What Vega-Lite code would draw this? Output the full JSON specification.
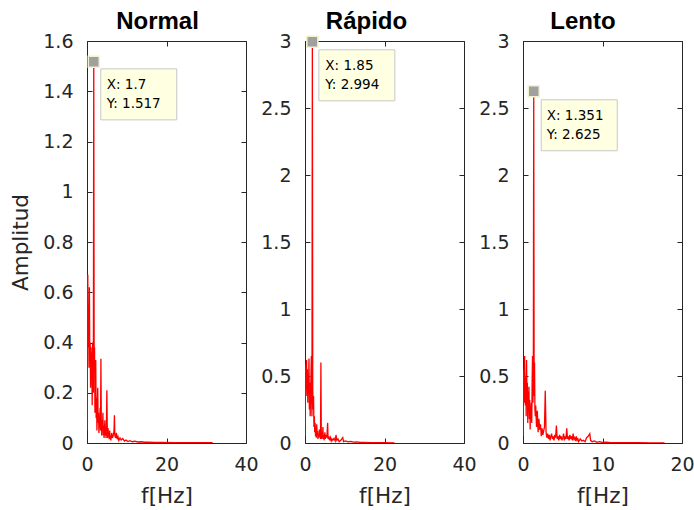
{
  "$schema": "https://vega.github.io/schema/vega-lite/v6.json",
  "padding": {"left": 10, "top": 10, "right": 5, "bottom": 5},
  "background": "white",
  "datasets": {
    "spectra": [
      {"panel":"Normal","f":0.0,"amp":0.05},{"panel":"Normal","f":0.1,"amp":0.45},{"panel":"Normal","f":0.2,"amp":0.67},{"panel":"Normal","f":0.3,"amp":0.38},{"panel":"Normal","f":0.4,"amp":0.55},{"panel":"Normal","f":0.5,"amp":0.30},{"panel":"Normal","f":0.6,"amp":0.62},{"panel":"Normal","f":0.7,"amp":0.35},{"panel":"Normal","f":0.8,"amp":0.40},{"panel":"Normal","f":0.9,"amp":0.22},{"panel":"Normal","f":1.0,"amp":0.38},{"panel":"Normal","f":1.1,"amp":0.26},{"panel":"Normal","f":1.2,"amp":0.36},{"panel":"Normal","f":1.3,"amp":0.15},{"panel":"Normal","f":1.4,"amp":0.40},{"panel":"Normal","f":1.5,"amp":0.28},{"panel":"Normal","f":1.6,"amp":0.20},{"panel":"Normal","f":1.7,"amp":1.517},{"panel":"Normal","f":1.8,"amp":0.30},{"panel":"Normal","f":1.9,"amp":0.38},{"panel":"Normal","f":2.0,"amp":0.12},{"panel":"Normal","f":2.1,"amp":0.25},{"panel":"Normal","f":2.2,"amp":0.33},{"panel":"Normal","f":2.3,"amp":0.10},{"panel":"Normal","f":2.4,"amp":0.18},{"panel":"Normal","f":2.5,"amp":0.05},{"panel":"Normal","f":2.6,"amp":0.15},{"panel":"Normal","f":2.7,"amp":0.22},{"panel":"Normal","f":2.8,"amp":0.08},{"panel":"Normal","f":2.9,"amp":0.12},{"panel":"Normal","f":3.0,"amp":0.04},{"panel":"Normal","f":3.1,"amp":0.10},{"panel":"Normal","f":3.2,"amp":0.06},{"panel":"Normal","f":3.3,"amp":0.14},{"panel":"Normal","f":3.4,"amp":0.05},{"panel":"Normal","f":3.5,"amp":0.335},{"panel":"Normal","f":3.6,"amp":0.08},{"panel":"Normal","f":3.7,"amp":0.03},{"panel":"Normal","f":3.8,"amp":0.09},{"panel":"Normal","f":3.9,"amp":0.05},{"panel":"Normal","f":4.0,"amp":0.12},{"panel":"Normal","f":4.1,"amp":0.03},{"panel":"Normal","f":4.2,"amp":0.07},{"panel":"Normal","f":4.3,"amp":0.02},{"panel":"Normal","f":4.4,"amp":0.06},{"panel":"Normal","f":4.5,"amp":0.09},{"panel":"Normal","f":4.6,"amp":0.03},{"panel":"Normal","f":4.7,"amp":0.05},{"panel":"Normal","f":4.8,"amp":0.02},{"panel":"Normal","f":4.9,"amp":0.08},{"panel":"Normal","f":5.0,"amp":0.21},{"panel":"Normal","f":5.1,"amp":0.05},{"panel":"Normal","f":5.2,"amp":0.02},{"panel":"Normal","f":5.3,"amp":0.06},{"panel":"Normal","f":5.4,"amp":0.03},{"panel":"Normal","f":5.5,"amp":0.04},{"panel":"Normal","f":5.6,"amp":0.015},{"panel":"Normal","f":5.7,"amp":0.05},{"panel":"Normal","f":5.8,"amp":0.02},{"panel":"Normal","f":5.9,"amp":0.03},{"panel":"Normal","f":6.0,"amp":0.01},{"panel":"Normal","f":6.2,"amp":0.04},{"panel":"Normal","f":6.4,"amp":0.02},{"panel":"Normal","f":6.6,"amp":0.03},{"panel":"Normal","f":6.8,"amp":0.05},{"panel":"Normal","f":6.9,"amp":0.11},{"panel":"Normal","f":7.0,"amp":0.03},{"panel":"Normal","f":7.2,"amp":0.02},{"panel":"Normal","f":7.4,"amp":0.04},{"panel":"Normal","f":7.6,"amp":0.015},{"panel":"Normal","f":7.8,"amp":0.025},{"panel":"Normal","f":8.0,"amp":0.01},{"panel":"Normal","f":8.3,"amp":0.02},{"panel":"Normal","f":8.6,"amp":0.012},{"panel":"Normal","f":9.0,"amp":0.018},{"panel":"Normal","f":9.4,"amp":0.008},{"panel":"Normal","f":9.8,"amp":0.012},{"panel":"Normal","f":10.3,"amp":0.006},{"panel":"Normal","f":10.8,"amp":0.009},{"panel":"Normal","f":11.4,"amp":0.005},{"panel":"Normal","f":12.0,"amp":0.007},{"panel":"Normal","f":12.8,"amp":0.004},{"panel":"Normal","f":13.6,"amp":0.005},{"panel":"Normal","f":14.5,"amp":0.003},{"panel":"Normal","f":15.5,"amp":0.003},{"panel":"Normal","f":17.0,"amp":0.002},{"panel":"Normal","f":19.0,"amp":0.002},{"panel":"Normal","f":22.0,"amp":0.001},{"panel":"Normal","f":25.0,"amp":0.001},{"panel":"Normal","f":28.0,"amp":0.001},{"panel":"Normal","f":31.6,"amp":0.001},

      {"panel":"Rápido","f":0.0,"amp":0.05},{"panel":"Rápido","f":0.1,"amp":0.45},{"panel":"Rápido","f":0.2,"amp":0.58},{"panel":"Rápido","f":0.3,"amp":0.35},{"panel":"Rápido","f":0.4,"amp":0.62},{"panel":"Rápido","f":0.5,"amp":0.40},{"panel":"Rápido","f":0.6,"amp":0.55},{"panel":"Rápido","f":0.7,"amp":0.30},{"panel":"Rápido","f":0.8,"amp":0.50},{"panel":"Rápido","f":0.9,"amp":0.38},{"panel":"Rápido","f":1.0,"amp":0.63},{"panel":"Rápido","f":1.1,"amp":0.25},{"panel":"Rápido","f":1.2,"amp":0.45},{"panel":"Rápido","f":1.3,"amp":0.20},{"panel":"Rápido","f":1.4,"amp":0.35},{"panel":"Rápido","f":1.5,"amp":0.50},{"panel":"Rápido","f":1.6,"amp":0.65},{"panel":"Rápido","f":1.7,"amp":0.30},{"panel":"Rápido","f":1.75,"amp":0.20},{"panel":"Rápido","f":1.85,"amp":2.994},{"panel":"Rápido","f":1.95,"amp":0.40},{"panel":"Rápido","f":2.05,"amp":0.25},{"panel":"Rápido","f":2.15,"amp":0.35},{"panel":"Rápido","f":2.25,"amp":0.12},{"panel":"Rápido","f":2.35,"amp":0.20},{"panel":"Rápido","f":2.45,"amp":0.08},{"panel":"Rápido","f":2.55,"amp":0.15},{"panel":"Rápido","f":2.65,"amp":0.05},{"panel":"Rápido","f":2.75,"amp":0.10},{"panel":"Rápido","f":2.85,"amp":0.04},{"panel":"Rápido","f":2.95,"amp":0.14},{"panel":"Rápido","f":3.05,"amp":0.06},{"panel":"Rápido","f":3.15,"amp":0.09},{"panel":"Rápido","f":3.25,"amp":0.03},{"panel":"Rápido","f":3.35,"amp":0.07},{"panel":"Rápido","f":3.5,"amp":0.04},{"panel":"Rápido","f":3.6,"amp":0.10},{"panel":"Rápido","f":3.7,"amp":0.05},{"panel":"Rápido","f":3.8,"amp":0.08},{"panel":"Rápido","f":3.9,"amp":0.03},{"panel":"Rápido","f":4.0,"amp":0.60},{"panel":"Rápido","f":4.1,"amp":0.06},{"panel":"Rápido","f":4.2,"amp":0.03},{"panel":"Rápido","f":4.3,"amp":0.08},{"panel":"Rápido","f":4.4,"amp":0.04},{"panel":"Rápido","f":4.5,"amp":0.12},{"panel":"Rápido","f":4.6,"amp":0.03},{"panel":"Rápido","f":4.7,"amp":0.06},{"panel":"Rápido","f":4.8,"amp":0.02},{"panel":"Rápido","f":4.9,"amp":0.05},{"panel":"Rápido","f":5.0,"amp":0.08},{"panel":"Rápido","f":5.1,"amp":0.03},{"panel":"Rápido","f":5.3,"amp":0.06},{"panel":"Rápido","f":5.5,"amp":0.04},{"panel":"Rápido","f":5.7,"amp":0.15},{"panel":"Rápido","f":5.8,"amp":0.03},{"panel":"Rápido","f":6.0,"amp":0.05},{"panel":"Rápido","f":6.2,"amp":0.02},{"panel":"Rápido","f":6.4,"amp":0.04},{"panel":"Rápido","f":6.6,"amp":0.015},{"panel":"Rápido","f":6.8,"amp":0.03},{"panel":"Rápido","f":7.0,"amp":0.02},{"panel":"Rápido","f":7.3,"amp":0.035},{"panel":"Rápido","f":7.6,"amp":0.015},{"panel":"Rápido","f":7.8,"amp":0.06},{"panel":"Rápido","f":8.0,"amp":0.02},{"panel":"Rápido","f":8.3,"amp":0.03},{"panel":"Rápido","f":8.6,"amp":0.01},{"panel":"Rápido","f":9.0,"amp":0.02},{"panel":"Rápido","f":9.5,"amp":0.04},{"panel":"Rápido","f":9.7,"amp":0.01},{"panel":"Rápido","f":10.2,"amp":0.015},{"panel":"Rápido","f":10.8,"amp":0.008},{"panel":"Rápido","f":11.5,"amp":0.012},{"panel":"Rápido","f":12.2,"amp":0.006},{"panel":"Rápido","f":13.0,"amp":0.008},{"panel":"Rápido","f":14.0,"amp":0.004},{"panel":"Rápido","f":15.0,"amp":0.005},{"panel":"Rápido","f":16.5,"amp":0.003},{"panel":"Rápido","f":18.0,"amp":0.002},{"panel":"Rápido","f":20.0,"amp":0.002},{"panel":"Rápido","f":22.5,"amp":0.001},

      {"panel":"Lento","f":0.0,"amp":0.05},{"panel":"Lento","f":0.05,"amp":0.35},{"panel":"Lento","f":0.1,"amp":0.55},{"panel":"Lento","f":0.15,"amp":0.30},{"panel":"Lento","f":0.2,"amp":0.65},{"panel":"Lento","f":0.25,"amp":0.40},{"panel":"Lento","f":0.3,"amp":0.28},{"panel":"Lento","f":0.35,"amp":0.50},{"panel":"Lento","f":0.4,"amp":0.20},{"panel":"Lento","f":0.45,"amp":0.62},{"panel":"Lento","f":0.5,"amp":0.35},{"panel":"Lento","f":0.55,"amp":0.45},{"panel":"Lento","f":0.6,"amp":0.15},{"panel":"Lento","f":0.65,"amp":0.38},{"panel":"Lento","f":0.7,"amp":0.25},{"panel":"Lento","f":0.75,"amp":0.42},{"panel":"Lento","f":0.8,"amp":0.18},{"panel":"Lento","f":0.85,"amp":0.32},{"panel":"Lento","f":0.9,"amp":0.10},{"panel":"Lento","f":0.95,"amp":0.28},{"panel":"Lento","f":1.0,"amp":0.22},{"panel":"Lento","f":1.05,"amp":0.30},{"panel":"Lento","f":1.1,"amp":0.15},{"panel":"Lento","f":1.15,"amp":0.45},{"panel":"Lento","f":1.2,"amp":0.65},{"panel":"Lento","f":1.25,"amp":0.30},{"panel":"Lento","f":1.3,"amp":0.50},{"panel":"Lento","f":1.351,"amp":2.625},{"panel":"Lento","f":1.4,"amp":0.35},{"panel":"Lento","f":1.45,"amp":0.60},{"panel":"Lento","f":1.5,"amp":0.25},{"panel":"Lento","f":1.55,"amp":0.20},{"panel":"Lento","f":1.6,"amp":0.28},{"panel":"Lento","f":1.7,"amp":0.12},{"panel":"Lento","f":1.8,"amp":0.24},{"panel":"Lento","f":1.9,"amp":0.08},{"panel":"Lento","f":2.0,"amp":0.18},{"panel":"Lento","f":2.1,"amp":0.10},{"panel":"Lento","f":2.2,"amp":0.14},{"panel":"Lento","f":2.3,"amp":0.05},{"panel":"Lento","f":2.4,"amp":0.11},{"panel":"Lento","f":2.5,"amp":0.06},{"panel":"Lento","f":2.6,"amp":0.09},{"panel":"Lento","f":2.7,"amp":0.12},{"panel":"Lento","f":2.8,"amp":0.39},{"panel":"Lento","f":2.9,"amp":0.08},{"panel":"Lento","f":3.0,"amp":0.04},{"panel":"Lento","f":3.1,"amp":0.07},{"panel":"Lento","f":3.2,"amp":0.03},{"panel":"Lento","f":3.3,"amp":0.06},{"panel":"Lento","f":3.4,"amp":0.02},{"panel":"Lento","f":3.5,"amp":0.05},{"panel":"Lento","f":3.6,"amp":0.07},{"panel":"Lento","f":3.7,"amp":0.03},{"panel":"Lento","f":3.8,"amp":0.05},{"panel":"Lento","f":3.9,"amp":0.02},{"panel":"Lento","f":4.0,"amp":0.06},{"panel":"Lento","f":4.1,"amp":0.04},{"panel":"Lento","f":4.2,"amp":0.13},{"panel":"Lento","f":4.3,"amp":0.03},{"panel":"Lento","f":4.4,"amp":0.05},{"panel":"Lento","f":4.5,"amp":0.02},{"panel":"Lento","f":4.6,"amp":0.06},{"panel":"Lento","f":4.7,"amp":0.03},{"panel":"Lento","f":4.8,"amp":0.05},{"panel":"Lento","f":4.9,"amp":0.02},{"panel":"Lento","f":5.0,"amp":0.04},{"panel":"Lento","f":5.1,"amp":0.07},{"panel":"Lento","f":5.2,"amp":0.02},{"panel":"Lento","f":5.3,"amp":0.05},{"panel":"Lento","f":5.4,"amp":0.03},{"panel":"Lento","f":5.5,"amp":0.11},{"panel":"Lento","f":5.6,"amp":0.03},{"panel":"Lento","f":5.7,"amp":0.05},{"panel":"Lento","f":5.8,"amp":0.02},{"panel":"Lento","f":5.9,"amp":0.06},{"panel":"Lento","f":6.0,"amp":0.03},{"panel":"Lento","f":6.1,"amp":0.05},{"panel":"Lento","f":6.2,"amp":0.02},{"panel":"Lento","f":6.3,"amp":0.07},{"panel":"Lento","f":6.4,"amp":0.03},{"panel":"Lento","f":6.5,"amp":0.04},{"panel":"Lento","f":6.6,"amp":0.015},{"panel":"Lento","f":6.7,"amp":0.05},{"panel":"Lento","f":6.8,"amp":0.02},{"panel":"Lento","f":6.9,"amp":0.03},{"panel":"Lento","f":7.0,"amp":0.01},{"panel":"Lento","f":7.2,"amp":0.03},{"panel":"Lento","f":7.4,"amp":0.015},{"panel":"Lento","f":7.6,"amp":0.02},{"panel":"Lento","f":7.8,"amp":0.01},{"panel":"Lento","f":8.0,"amp":0.04},{"panel":"Lento","f":8.2,"amp":0.05},{"panel":"Lento","f":8.4,"amp":0.07},{"panel":"Lento","f":8.5,"amp":0.02},{"panel":"Lento","f":8.7,"amp":0.01},{"panel":"Lento","f":9.0,"amp":0.015},{"panel":"Lento","f":9.3,"amp":0.005},{"panel":"Lento","f":9.6,"amp":0.01},{"panel":"Lento","f":10.0,"amp":0.004},{"panel":"Lento","f":10.5,"amp":0.006},{"panel":"Lento","f":11.0,"amp":0.003},{"panel":"Lento","f":12.0,"amp":0.003},{"panel":"Lento","f":13.0,"amp":0.002},{"panel":"Lento","f":14.5,"amp":0.002},{"panel":"Lento","f":16.0,"amp":0.001},{"panel":"Lento","f":17.8,"amp":0.001}
    ],
    "peaks": [
      {"panel":"Normal","f":1.7,"amp":1.517,"label":"X: 1.7\nY: 1.517"},
      {"panel":"Rápido","f":1.85,"amp":2.994,"label":"X: 1.85\nY: 2.994"},
      {"panel":"Lento","f":1.351,"amp":2.625,"label":"X: 1.351\nY: 2.625"}
    ]
  },
  "hconcat": [
    {
      "width": 159, "height": 402,
      "title": {"text": "Normal", "dx": -9},
      "resolve": {"axis": {"x": "independent", "y": "independent"}},
      "layer": [
        {"data": {"name": "spectra"}, "transform": [{"filter": "datum.panel === 'Normal'"}],
         "mark": {"type": "line", "color": "#ff0000", "strokeWidth": 1.3, "clip": true},
         "encoding": {
           "x": {"field": "f", "type": "quantitative", "scale": {"domain": [0, 40], "nice": false}, "axis": {"orient": "bottom", "values": [0, 20, 40], "title": "f[Hz]"}},
           "y": {"field": "amp", "type": "quantitative", "scale": {"domain": [0, 1.6], "nice": false}, "axis": {"orient": "left", "values": [0, 0.2, 0.4, 0.6, 0.8, 1, 1.2, 1.4, 1.6], "format": "~g", "title": "Amplitud"}}
         }},
        {"data": {"name": "peaks"}, "transform": [{"filter": "datum.panel === 'Normal'"}],
         "mark": {"type": "point", "shape": "M-1,-0.671L1,-0.671L1,0.671L-1,0.671Z", "size": 5776, "filled": true, "fill": "#ffffe1", "stroke": "#c8c8c8", "strokeWidth": 1, "opacity": 1, "xOffset": 45, "yOffset": 32.5},
         "encoding": {
           "x": {"field": "f", "type": "quantitative", "scale": {"domain": [0, 40], "nice": false}, "axis": null},
           "y": {"field": "amp", "type": "quantitative", "scale": {"domain": [0, 1.6], "nice": false}, "axis": null}
         }},
        {"data": {"name": "peaks"}, "transform": [{"filter": "datum.panel === 'Normal'"}],
         "mark": {"type": "text", "align": "left", "baseline": "middle", "lineBreak": "\n", "lineHeight": 19, "font": "DejaVu Sans", "fontSize": 13.5, "color": "#000000", "xOffset": 13, "yOffset": 23},
         "encoding": {
           "x": {"field": "f", "type": "quantitative", "scale": {"domain": [0, 40], "nice": false}, "axis": null},
           "y": {"field": "amp", "type": "quantitative", "scale": {"domain": [0, 1.6], "nice": false}, "axis": null},
           "text": {"field": "label"}
         }},
        {"data": {"name": "peaks"}, "transform": [{"filter": "datum.panel === 'Normal'"}],
         "mark": {"type": "point", "shape": "square", "size": 121, "filled": true, "fill": "#a0a0a0", "stroke": "#f2f2cc", "strokeWidth": 1.5, "opacity": 1},
         "encoding": {
           "x": {"field": "f", "type": "quantitative", "scale": {"domain": [0, 40], "nice": false}, "axis": {"orient": "top", "values": [0, 20, 40], "labels": false, "title": null}},
           "y": {"field": "amp", "type": "quantitative", "scale": {"domain": [0, 1.6], "nice": false}, "axis": {"orient": "right", "values": [0, 0.2, 0.4, 0.6, 0.8, 1, 1.2, 1.4, 1.6], "labels": false, "title": null}}
         }}
      ]
    },
    {
      "width": 159, "height": 402,
      "title": {"text": "Rápido", "dx": -18},
      "resolve": {"axis": {"x": "independent", "y": "independent"}},
      "layer": [
        {"data": {"name": "spectra"}, "transform": [{"filter": "datum.panel === 'Rápido'"}],
         "mark": {"type": "line", "color": "#ff0000", "strokeWidth": 1.3, "clip": true},
         "encoding": {
           "x": {"field": "f", "type": "quantitative", "scale": {"domain": [0, 40], "nice": false}, "axis": {"orient": "bottom", "values": [0, 20, 40], "title": "f[Hz]"}},
           "y": {"field": "amp", "type": "quantitative", "scale": {"domain": [0, 3], "nice": false}, "axis": {"orient": "left", "values": [0, 0.5, 1, 1.5, 2, 2.5, 3], "format": "~g", "title": null}}
         }},
        {"data": {"name": "peaks"}, "transform": [{"filter": "datum.panel === 'Rápido'"}],
         "mark": {"type": "point", "shape": "M-1,-0.671L1,-0.671L1,0.671L-1,0.671Z", "size": 5776, "filled": true, "fill": "#ffffe1", "stroke": "#c8c8c8", "strokeWidth": 1, "opacity": 1, "xOffset": 44.5, "yOffset": 33.5},
         "encoding": {
           "x": {"field": "f", "type": "quantitative", "scale": {"domain": [0, 40], "nice": false}, "axis": null},
           "y": {"field": "amp", "type": "quantitative", "scale": {"domain": [0, 3], "nice": false}, "axis": null}
         }},
        {"data": {"name": "peaks"}, "transform": [{"filter": "datum.panel === 'Rápido'"}],
         "mark": {"type": "text", "align": "left", "baseline": "middle", "lineBreak": "\n", "lineHeight": 19, "font": "DejaVu Sans", "fontSize": 13.5, "color": "#000000", "xOffset": 13, "yOffset": 24},
         "encoding": {
           "x": {"field": "f", "type": "quantitative", "scale": {"domain": [0, 40], "nice": false}, "axis": null},
           "y": {"field": "amp", "type": "quantitative", "scale": {"domain": [0, 3], "nice": false}, "axis": null},
           "text": {"field": "label"}
         }},
        {"data": {"name": "peaks"}, "transform": [{"filter": "datum.panel === 'Rápido'"}],
         "mark": {"type": "point", "shape": "square", "size": 121, "filled": true, "fill": "#a0a0a0", "stroke": "#f2f2cc", "strokeWidth": 1.5, "opacity": 1},
         "encoding": {
           "x": {"field": "f", "type": "quantitative", "scale": {"domain": [0, 40], "nice": false}, "axis": {"orient": "top", "values": [0, 20, 40], "labels": false, "title": null}},
           "y": {"field": "amp", "type": "quantitative", "scale": {"domain": [0, 3], "nice": false}, "axis": {"orient": "right", "values": [0, 0.5, 1, 1.5, 2, 2.5, 3], "labels": false, "title": null}}
         }}
      ]
    },
    {
      "width": 159, "height": 402,
      "title": {"text": "Lento", "dx": -19.5},
      "resolve": {"axis": {"x": "independent", "y": "independent"}},
      "layer": [
        {"data": {"name": "spectra"}, "transform": [{"filter": "datum.panel === 'Lento'"}],
         "mark": {"type": "line", "color": "#ff0000", "strokeWidth": 1.3, "clip": true},
         "encoding": {
           "x": {"field": "f", "type": "quantitative", "scale": {"domain": [0, 20], "nice": false}, "axis": {"orient": "bottom", "values": [0, 10, 20], "title": "f[Hz]"}},
           "y": {"field": "amp", "type": "quantitative", "scale": {"domain": [0, 3], "nice": false}, "axis": {"orient": "left", "values": [0, 0.5, 1, 1.5, 2, 2.5, 3], "format": "~g", "title": null}}
         }},
        {"data": {"name": "peaks"}, "transform": [{"filter": "datum.panel === 'Lento'"}],
         "mark": {"type": "point", "shape": "M-1,-0.671L1,-0.671L1,0.671L-1,0.671Z", "size": 5776, "filled": true, "fill": "#ffffe1", "stroke": "#c8c8c8", "strokeWidth": 1, "opacity": 1, "xOffset": 45.5, "yOffset": 34},
         "encoding": {
           "x": {"field": "f", "type": "quantitative", "scale": {"domain": [0, 20], "nice": false}, "axis": null},
           "y": {"field": "amp", "type": "quantitative", "scale": {"domain": [0, 3], "nice": false}, "axis": null}
         }},
        {"data": {"name": "peaks"}, "transform": [{"filter": "datum.panel === 'Lento'"}],
         "mark": {"type": "text", "align": "left", "baseline": "middle", "lineBreak": "\n", "lineHeight": 19, "font": "DejaVu Sans", "fontSize": 13.5, "color": "#000000", "xOffset": 13, "yOffset": 24.5},
         "encoding": {
           "x": {"field": "f", "type": "quantitative", "scale": {"domain": [0, 20], "nice": false}, "axis": null},
           "y": {"field": "amp", "type": "quantitative", "scale": {"domain": [0, 3], "nice": false}, "axis": null},
           "text": {"field": "label"}
         }},
        {"data": {"name": "peaks"}, "transform": [{"filter": "datum.panel === 'Lento'"}],
         "mark": {"type": "point", "shape": "square", "size": 121, "filled": true, "fill": "#a0a0a0", "stroke": "#f2f2cc", "strokeWidth": 1.5, "opacity": 1},
         "encoding": {
           "x": {"field": "f", "type": "quantitative", "scale": {"domain": [0, 20], "nice": false}, "axis": {"orient": "top", "values": [0, 10, 20], "labels": false, "title": null}},
           "y": {"field": "amp", "type": "quantitative", "scale": {"domain": [0, 3], "nice": false}, "axis": {"orient": "right", "values": [0, 0.5, 1, 1.5, 2, 2.5, 3], "labels": false, "title": null}}
         }}
      ]
    }
  ],
  "spacing": 59,
  "bounds": "flush",
  "config": {
    "view": {"stroke": null},
    "axis": {
      "grid": false,
      "domainColor": "#262626", "domainWidth": 1,
      "tickColor": "#262626", "tickSize": -5, "tickWidth": 1,
      "labelColor": "#262626", "labelFont": "DejaVu Sans", "labelFontSize": 19, "labelFlush": false,
      "titleColor": "#262626", "titleFont": "DejaVu Sans", "titleFontSize": 21.5, "titleFontWeight": "normal"
    },
    "axisX": {"labelPadding": 17, "titlePadding": 11},
    "axisY": {"labelPadding": 19, "titlePadding": 10},
    "title": {"font": "Liberation Sans", "fontSize": 24, "fontWeight": "bold", "color": "#000000", "baseline": "alphabetic", "offset": -2}
  }
}
